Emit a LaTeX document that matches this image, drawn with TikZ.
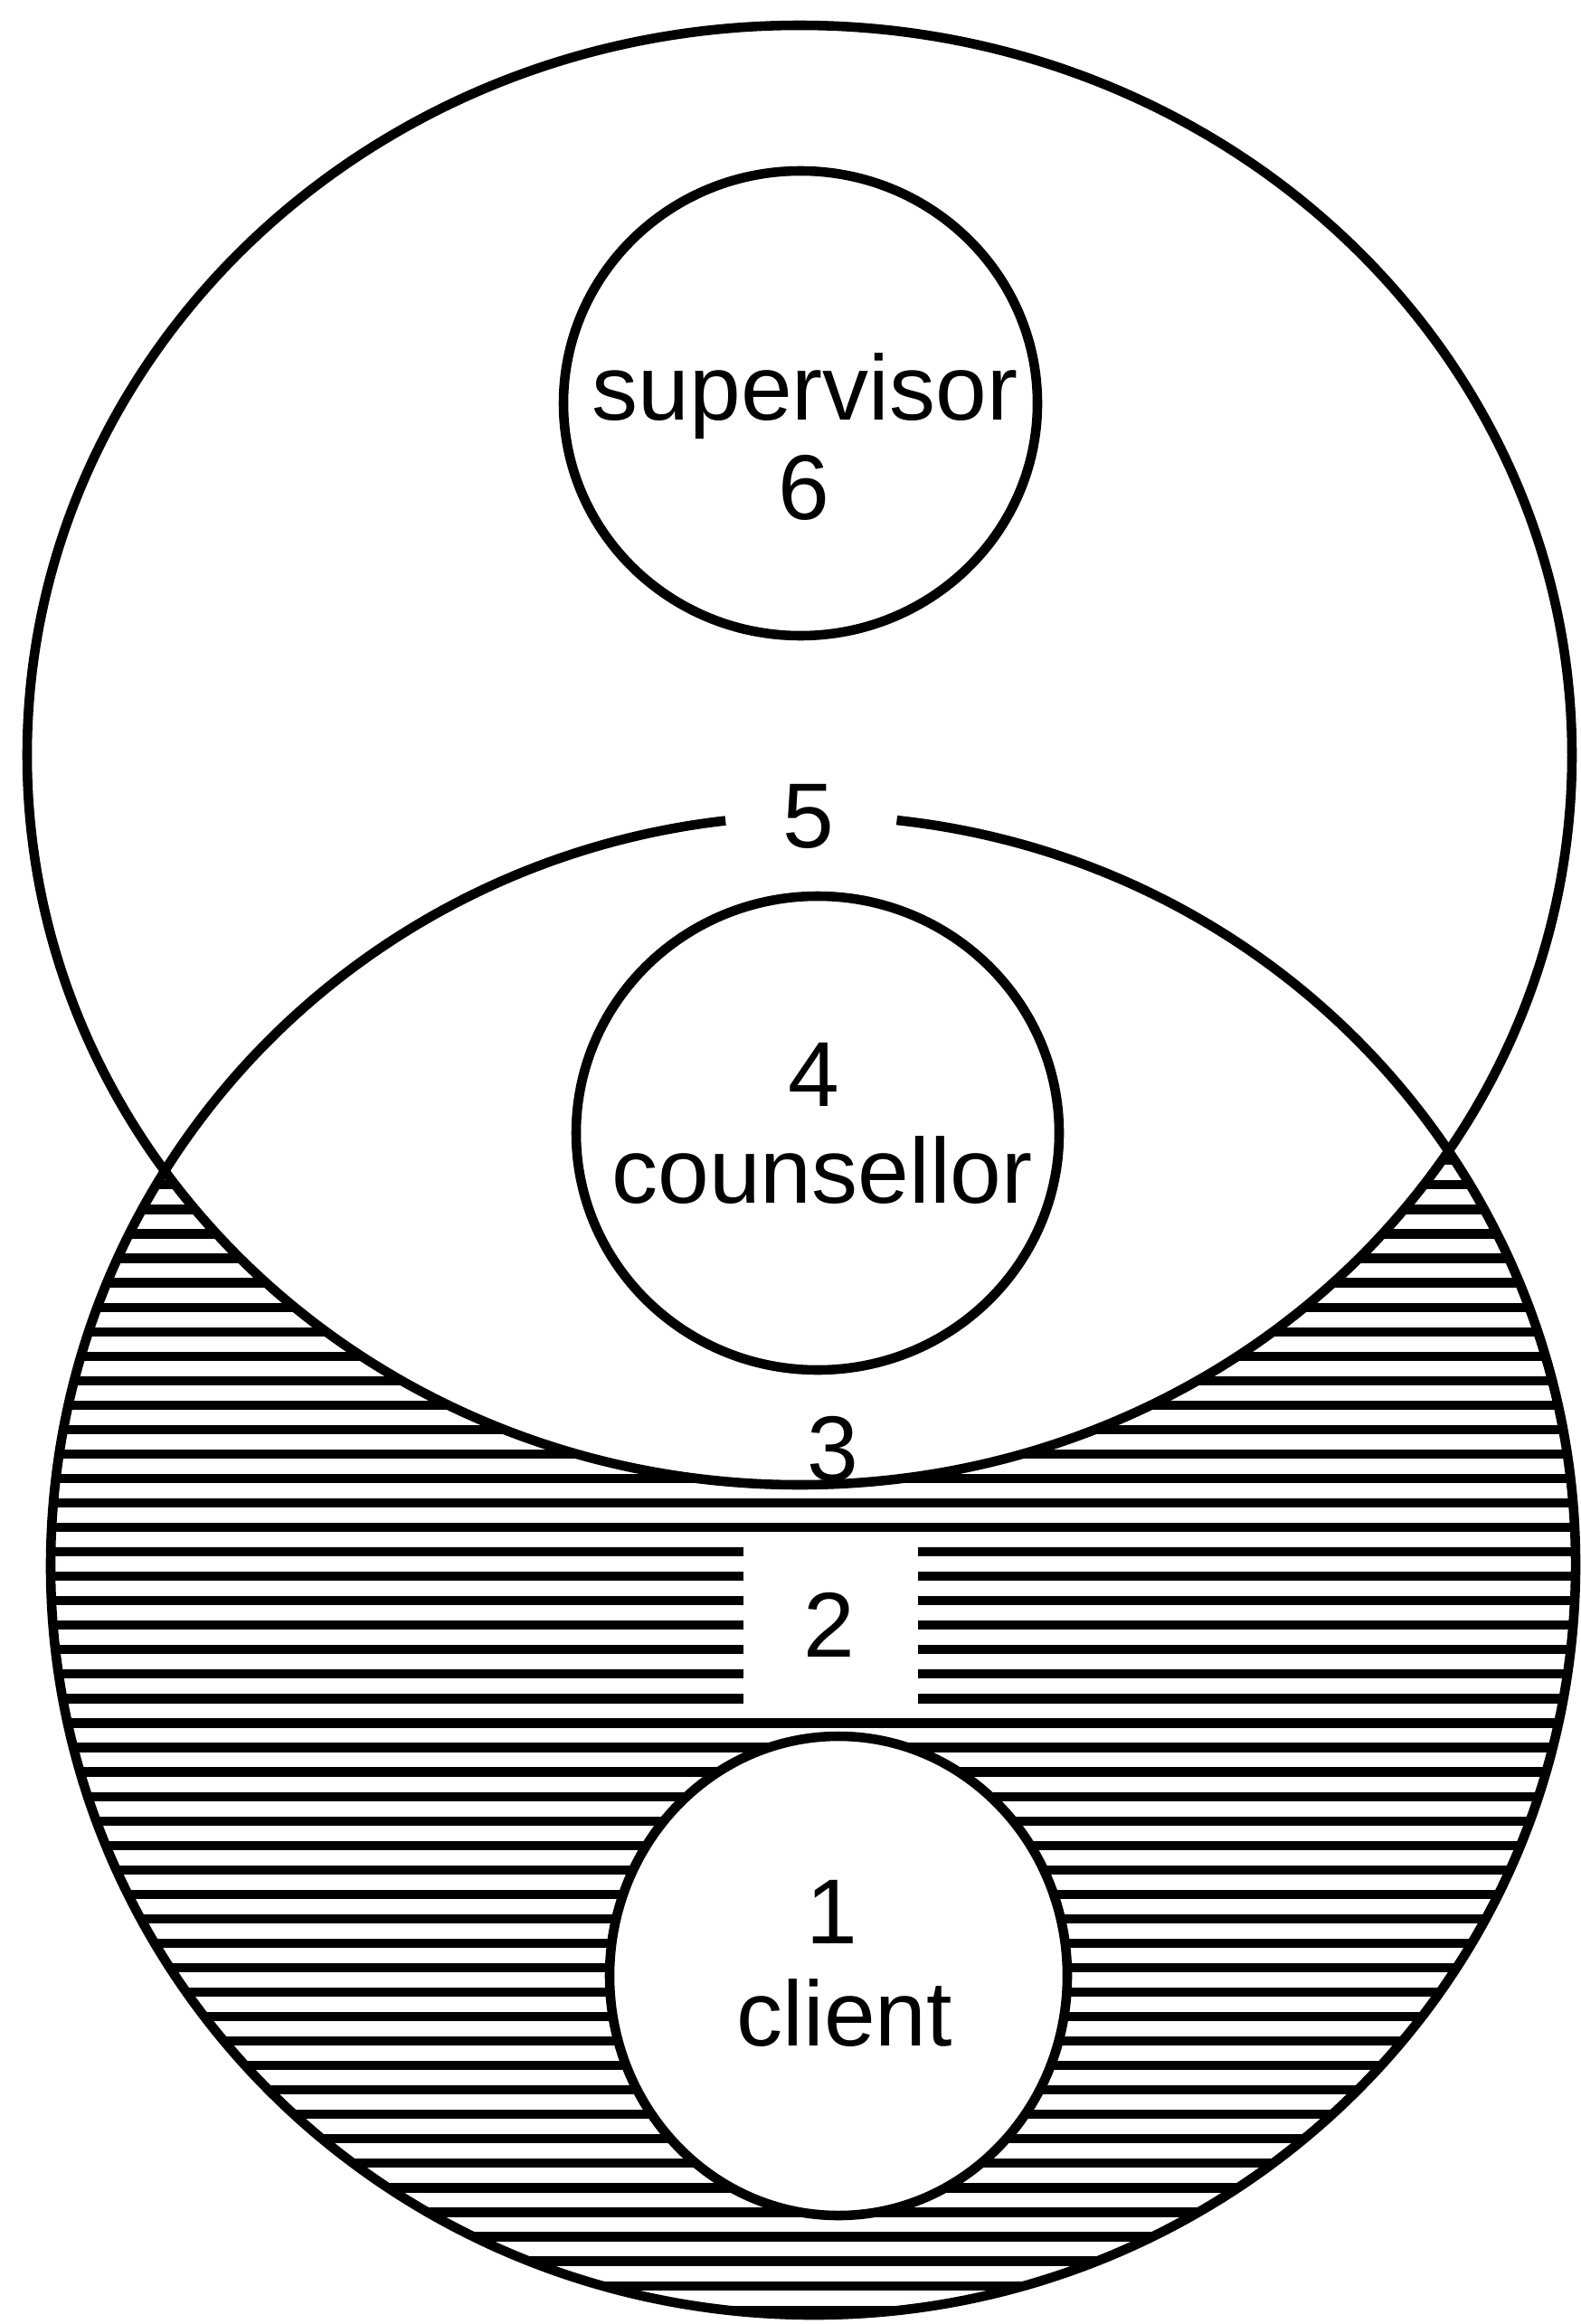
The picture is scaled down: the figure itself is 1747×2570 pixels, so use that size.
\documentclass[tikz,border=0pt]{standalone}
\usepackage{fontspec}
\setmainfont{Liberation Sans}
\begin{document}
\begin{tikzpicture}[x=0.01cm,y=-0.01cm,
  outline/.style={line width=3.0pt,black},
  hatchline/.style={line width=2.9pt,black},
  lab/.style={inner sep=0pt,anchor=base,font=\fontsize{29pt}{34pt}\selectfont}]
\useasboundingbox (0,0) rectangle (1747,2570);
\fill[white] (0,0) rectangle (1747,2570);
% centres
\coordinate (bigc) at (884,835);
\coordinate (botc) at (899,1731);
\coordinate (supc) at (885,446);
\coordinate (couc) at (904,1253);
\coordinate (clic) at (927,2185);
% hatching inside the lower oval
\begin{scope}
  \clip (botc) ellipse[x radius=843, y radius=829];
  \foreach \k in {-30,...,34} {
    \draw[hatchline] (0,{1662+27.05*\k}) -- (1747,{1662+27.05*\k});
  }
\end{scope}
% upper oval blanks the hatching
\fill[white] (bigc) ellipse[x radius=854, y radius=807];
% white box for 2
\fill[white] (822,1695) rectangle (1015,1899);
% client circle
\draw[outline,fill=white] (clic) ellipse[x radius=253, y radius=265];
% outlines
\draw[outline] (bigc) ellipse[x radius=854, y radius=807];
\draw[outline] (botc) ++(-83.7:843 and 829) arc[start angle=-83.7, end angle=263.4, x radius=843, y radius=829];
\draw[outline] (supc) ellipse[x radius=262, y radius=257];
\draw[outline] (couc) ellipse[x radius=267, y radius=262];
% labels
\node[lab] (tsup) at (890,465) {supervisor};
\node[lab] (t6) at (889,574) {6};
\node[lab] (t5) at (894,937) {5};
\node[lab] (t4) at (900,1223) {4};
\node[lab] (tcou) at (909,1330) {counsellor};
\node[lab] (t3) at (921,1637) {3};
\node[lab] (t2) at (917,1832) {2};
\node[lab] (t1) at (920,2149) {1};
\node[lab] (tcli) at (934,2262) {client};
\end{tikzpicture}
\end{document}
